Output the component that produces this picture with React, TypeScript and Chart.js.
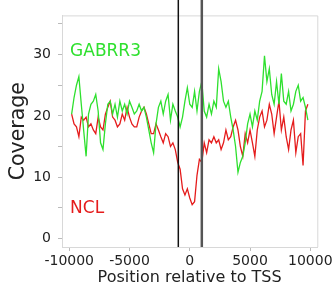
import React, { useEffect, useRef } from "react";
import { Chart, registerables } from "chart.js";

Chart.register(...registerables);

const positions: number[] = Array.from({ length: 99 }, (_, i) => -9800 + i * 200);

const gabrr3: number[] = [
  20.3, 23, 25, 26.4, 21.9, 17.6, 13.4, 20.3, 21.9, 22.4,
  23.5, 20.8, 15.6, 14.5, 18.7, 21.9, 22.4, 20.3, 21.9, 19.8,
  22.4, 20.8, 21.9, 20.3, 22.4, 21.4, 20.3, 20.8, 21.9, 20.8,
  21.4, 19.8, 17.7, 15.6, 14, 18.7, 21.4, 22.4, 20.3, 22.4,
  23.5, 19.3, 21.9, 20.8, 19.8, 18.2, 19.8, 22.4, 24.6, 21.9,
  21.4, 24, 20.8, 24, 25.6, 20.8, 19.8, 21.9, 20.3, 22.4,
  21.4, 27.7, 25.6, 22.4, 21.4, 22.4, 19.8, 17.7, 15, 10.8,
  12.4, 13.4, 15.6, 18.7, 20.3, 18.2, 20.8, 19.3, 22.4, 24,
  29.8, 25.6, 27.7, 23.5, 21.9, 25.6, 21.9, 26.9, 22.4, 21.9,
  24, 20.8, 21.9, 24, 25, 22.4, 23, 21.4, 19.3,
];

const ncl: number[] = [
  20.3, 18.7, 18.2, 16.6, 19.8, 19.3, 19.8, 18.2, 18.7, 17.7,
  17.1, 19.8, 18.2, 17.7, 20.3, 21.4, 22.4, 19.8, 19.3, 18.2,
  18.7, 20.3, 19.3, 21.4, 19.8, 18.7, 18.2, 18.2, 19.8, 20.8,
  21.4, 20.3, 18.7, 17.1, 17.1, 18.7, 17.7, 16.6, 15.6, 17.1,
  16.6, 15, 15.6, 14.5, 12.4, 11.3, 8.1, 7.1, 8.1, 6.6,
  5.5, 6, 10.3, 12.9, 12.4, 15.6, 14, 16.1, 15.6, 16.6,
  15.6, 16.1, 14.5, 15.6, 17.7, 16.1, 16.6, 18.2, 19.3, 17.7,
  15, 13.4, 17.1, 15.6, 17.7, 15.6, 13.4, 17.7, 19.8, 20.8,
  18.2, 19.3, 21.9, 20.3, 17.1, 19.8, 22.4, 17.7, 19.8, 16.6,
  14.5, 17.7, 19.3, 14, 16.6, 17.1, 11.9, 20.8, 21.9,
];

const xTicks: number[] = [-10000, -5000, 0, 5000, 10000];
const yTicks: number[] = [0, 5, 10, 15, 20, 25, 30, 35];
const yLabelled: number[] = [0, 10, 20, 30];
const markerLines: number[] = [-950, 1000];
const seriesNames: string[] = ["GABRR3", "NCL"];
const seriesColors: string[] = ["#2ee02e", "#e51c1c"];
const labelPositions: { x: number; y: number }[] = [
  { x: -9930, y: 30.5 },
  { x: -9930, y: 4.9 },
];

const FONT = "'DejaVu Sans', sans-serif";

const overlayPlugin = {
  id: "overlay",
  afterDatasetsDraw(chart: any) {
    const { ctx, chartArea, scales } = chart;
    const xs = scales.x;
    const ys = scales.y;
    ctx.save();
    ctx.strokeStyle = "#d8d8d8";
    ctx.lineWidth = 1;
    ctx.beginPath();
    ctx.moveTo(chartArea.left, chartArea.top + 0.5);
    ctx.lineTo(chartArea.right + 0.5, chartArea.top + 0.5);
    ctx.lineTo(chartArea.right + 0.5, chartArea.bottom);
    ctx.stroke();
    const widths = [1.5, 2.5];
    const colors = ["#111111", "#555555"];
    markerLines.forEach((v, i) => {
      const px = xs.getPixelForValue(v);
      ctx.strokeStyle = colors[i];
      ctx.lineWidth = widths[i];
      ctx.beginPath();
      ctx.moveTo(px, 0);
      ctx.lineTo(px, chartArea.bottom);
      ctx.stroke();
    });
    ctx.font = `17px ${FONT}`;
    ctx.textAlign = "left";
    ctx.textBaseline = "middle";
    seriesNames.forEach((name, i) => {
      ctx.fillStyle = seriesColors[i];
      ctx.fillText(name, xs.getPixelForValue(labelPositions[i].x), ys.getPixelForValue(labelPositions[i].y));
    });
    ctx.restore();
  },
};

export default function App() {
  const canvasRef = useRef<HTMLCanvasElement | null>(null);

  useEffect(() => {
    if (!canvasRef.current) return;
    const chart = new Chart(canvasRef.current, {
      type: "line",
      data: {
        datasets: [
          {
            label: seriesNames[0],
            data: positions.map((x, i) => ({ x, y: gabrr3[i] })),
            borderColor: seriesColors[0],
            borderWidth: 1.3,
            pointRadius: 0,
            tension: 0,
          },
          {
            label: seriesNames[1],
            data: positions.map((x, i) => ({ x, y: ncl[i] })),
            borderColor: seriesColors[1],
            borderWidth: 1.3,
            pointRadius: 0,
            tension: 0,
          },
        ],
      },
      options: {
        animation: false,
        responsive: false,
        devicePixelRatio: 1,
        layout: { padding: { top: 7.5, right: 16, left: 0, bottom: 0 } },
        plugins: { legend: { display: false }, tooltip: { enabled: false } },
        scales: {
          x: {
            type: "linear",
            min: -10600,
            max: 10580,
            afterBuildTicks: (s: any) => {
              s.ticks = xTicks.map((v) => ({ value: v }));
            },
            afterFit: (s: any) => {
              s.height = 48;
            },
            grid: {
              drawOnChartArea: false,
              drawTicks: true,
              tickLength: 4,
              color: "#bbbbbb",
            },
            border: { color: "#d8d8d8" },
            ticks: {
              color: "#222",
              font: { family: FONT, size: 14 },
              padding: 2,
              maxRotation: 0,
              callback: (v: any) => String(v),
            },
            title: {
              display: true,
              text: "Position relative to TSS",
              color: "#222",
              font: { family: FONT, size: 16 },
              padding: { top: 0, bottom: 8 },
            },
          },
          y: {
            type: "linear",
            min: -1.4,
            max: 36.4,
            afterBuildTicks: (s: any) => {
              s.ticks = yTicks.map((v) => ({ value: v }));
            },
            afterFit: (s: any) => {
              s.width = 62;
            },
            grid: {
              drawOnChartArea: false,
              drawTicks: true,
              tickLength: 4,
              color: "#bbbbbb",
            },
            border: { color: "#d8d8d8" },
            ticks: {
              color: "#222",
              font: { family: FONT, size: 14 },
              padding: 7,
              callback: (v: any) => (yLabelled.includes(Number(v)) ? String(v) : ""),
            },
            title: {
              display: true,
              text: "Coverage",
              color: "#222",
              font: { family: FONT, size: 20.5 },
              padding: { top: 6, bottom: 0 },
            },
          },
        },
      },
      plugins: [overlayPlugin],
    });
    return () => chart.destroy();
  }, []);

  return (
    <div style={{ position: "fixed", left: 0, top: 0, width: 335, height: 295, background: "#fff" }}>
      <canvas ref={canvasRef} width={335} height={295} style={{ width: 335, height: 295 }} />
    </div>
  );
}
